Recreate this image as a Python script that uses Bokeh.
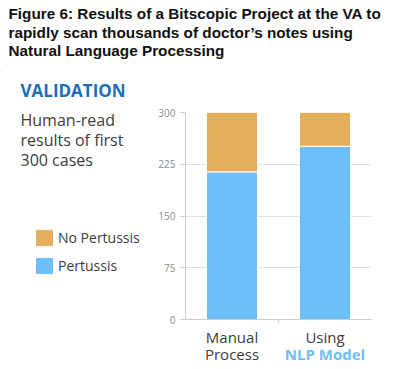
from bokeh.plotting import figure
from bokeh.models import ColumnDataSource, Legend, LegendItem, Range1d, FixedTicker
from bokeh.layouts import column, row
from bokeh.core.properties import value
from bokeh.embed import file_html
from bokeh.resources import INLINE

# ---- data ----
categories = ["Manual Process", "Using NLP Model"]
pertussis = [214, 251]
no_pertussis = [86, 49]
y_ticks = [0, 75, 150, 225, 300]
series_names = ["Pertussis", "No Pertussis"]
legend_labels = ["No Pertussis", "Pertussis"]
xlabel_line1 = ["Manual", "Using"]
xlabel_line2 = ["Process", "NLP Model"]
title_lines = [
    "Figure 6: Results of a Bitscopic Project at the VA to",
    "rapidly scan thousands of doctor\u2019s notes using",
    "Natural Language Processing",
]
side_heading = "VALIDATION"
side_lines = ["Human-read", "results of first", "300 cases"]

ORANGE = "#E5AE5C"
BLUE = "#6EBEF9"
DARKBLUE = "#1F6CB8"
TEXT = "#3C3C3C"


def blank(width, height, x_range, y_range, **kw):
    f = figure(width=width, height=height, output_backend="svg", toolbar_location=None,
               x_range=x_range, y_range=y_range, min_border=0, title=None, **kw)
    f.axis.visible = False
    f.grid.visible = False
    f.outline_line_color = None
    return f


# ---- title strip (page coords, y downward) ----
TW, TH = 392, 70
tfig = blank(TW, TH, Range1d(0, TW), Range1d(TH, 0))
tfig.text(x=[8] * len(title_lines), y=[13 + 18.5 * i for i in range(len(title_lines))],
          text=title_lines, text_font=value("Liberation Sans"), text_font_style="bold",
          text_font_size=value("15.3px"), text_color="#111111", text_baseline="alphabetic")

# ---- left text panel ----
LW, LH = 150, 299
lfig = blank(LW, LH, Range1d(0, LW), Range1d(TH + LH, TH))
lfig.text(x=[20], y=[90], text=[side_heading], text_font=value("Open Sans"),
          text_font_style="bold", text_font_size=value("17px"), text_color=DARKBLUE,
          text_baseline="alphabetic")
lfig.text(x=[20] * len(side_lines), y=[119 + 20 * i for i in range(len(side_lines))],
          text=side_lines, text_font=value("Open Sans"), text_font_size=value("16px"),
          text_color=TEXT, text_baseline="alphabetic")
# legend swatches: zero-size bars (outside the visible frame) used only by the legend
r_no = lfig.vbar(x=[0], top=[0], bottom=[0], width=0, color=ORANGE)
r_yes = lfig.vbar(x=[0], top=[0], bottom=[0], width=0, color=BLUE)
legend = Legend(items=[LegendItem(label=legend_labels[0], renderers=[r_no]),
                       LegendItem(label=legend_labels[1], renderers=[r_yes])],
                location=(34, TH + LH - 275), padding=0, margin=0, spacing=9,
                glyph_width=20, glyph_height=19, label_height=19, label_standoff=4,
                label_text_font="Open Sans", label_text_font_size="14px",
                label_text_color=TEXT, border_line_color=None,
                background_fill_alpha=0)
lfig.add_layout(legend, "center")

# ---- chart ----
CW = 392 - LW
BL, BR = 185 - LW, 21
CH = 258
xr = Range1d(0, len(categories))
xs = [i + 0.5 for i in range(len(categories))]
src = ColumnDataSource(dict(x=xs, Pertussis=pertussis, **{"No Pertussis": no_pertussis}))

p = figure(width=CW, height=CH, output_backend="svg", toolbar_location=None, title=None,
           x_range=xr, y_range=Range1d(0, 300),
           min_border_left=BL, min_border_right=BR, min_border_top=112 - TH,
           min_border_bottom=TH + CH - 319)
p.outline_line_color = None

p.vbar_stack(series_names, x="x", width=0.55, source=src,
             color=[BLUE, ORANGE], line_color="white", line_width=1)

AX = "#C9CED6"
p.yaxis.ticker = FixedTicker(ticks=y_ticks)
p.yaxis.axis_line_color = AX
p.yaxis.major_tick_line_color = AX
p.yaxis.major_tick_out = 5
p.yaxis.major_tick_in = 0
p.yaxis.minor_tick_line_color = None
p.yaxis.major_label_text_font = "Open Sans"
p.yaxis.major_label_text_font_size = "10px"
p.yaxis.major_label_text_color = "#8C8C8C"
p.yaxis.major_label_standoff = 5

p.xaxis.ticker = FixedTicker(ticks=[1])
p.xaxis.axis_line_color = AX
p.xaxis.major_tick_line_color = AX
p.xaxis.major_tick_out = 4
p.xaxis.major_tick_in = 0
p.xaxis.minor_tick_line_color = None
p.xaxis.major_label_overrides = {1: ""}
p.xaxis.major_label_standoff = 0

p.xgrid.grid_line_color = None
p.ygrid.grid_line_color = "#DDE1E6"
p.ygrid.ticker = FixedTicker(ticks=y_ticks)

# ---- category labels under the chart ----
XH = LH - CH
y_top = TH + CH
xfig = figure(width=CW, height=XH, output_backend="svg", toolbar_location=None, title=None,
              x_range=xr, y_range=Range1d(y_top + XH, y_top),
              min_border_left=BL, min_border_right=BR, min_border_top=0, min_border_bottom=0)
xfig.axis.visible = False
xfig.grid.visible = False
xfig.outline_line_color = None
xfig.text(x=xs, y=[336.5] * len(xs), text=xlabel_line1, text_font=value("Open Sans"),
          text_font_size=value("15px"), text_color=TEXT, text_align="center",
          text_baseline="alphabetic")
xfig.text(x=xs[:1], y=[353.5], text=xlabel_line2[:1], text_font=value("Open Sans"),
          text_font_size=value("15px"), text_color=TEXT, text_align="center",
          text_baseline="alphabetic")
xfig.text(x=xs[1:], y=[353.5], text=xlabel_line2[1:], text_font=value("Open Sans"),
          text_font_size=value("15px"), text_font_style="bold", text_color=BLUE,
          text_align="center", text_baseline="alphabetic")

layout = column(tfig, row(lfig, column(p, xfig)))
open("out.html", "w").write(file_html(layout, INLINE))
